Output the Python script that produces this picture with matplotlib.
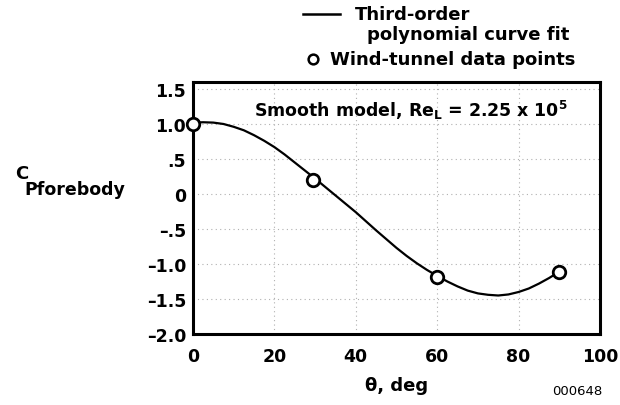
import matplotlib
matplotlib.use('Agg')
import matplotlib.pyplot as plt
from matplotlib.lines import Line2D

plt.rcParams['font.family'] = ['DejaVu Sans']
plt.rcParams['font.weight'] = 'bold'
plt.rcParams['mathtext.fontset'] = 'custom'
plt.rcParams['mathtext.rm'] = 'DejaVu Sans:bold'
plt.rcParams['mathtext.it'] = 'DejaVu Sans:bold'
plt.rcParams['mathtext.bf'] = 'DejaVu Sans:bold'

# polynomial fit curve
fit_theta = [0, 2.5, 5, 7.5, 10, 12.5, 15, 17.5, 20, 22.5, 25, 27.5, 30, 32.5, 35,
             37.5, 40, 42.5, 45, 47.5, 50, 52.5, 55, 57.5, 60, 62.5, 65, 67.5,
             70, 72.5, 75, 77.5, 80, 82.5, 85, 87.5, 90]
fit_cp = [1.02, 1.025, 1.02, 1.0, 0.96, 0.91, 0.84, 0.76, 0.67, 0.565, 0.45, 0.335,
          0.22, 0.10, -0.02, -0.14, -0.26, -0.39, -0.52, -0.645, -0.77, -0.885,
          -0.99, -1.085, -1.17, -1.25, -1.32, -1.38, -1.42, -1.44, -1.45, -1.435,
          -1.40, -1.35, -1.28, -1.20, -1.11]

# wind-tunnel data
pt_theta = [0, 29.5, 60, 90]
pt_cp = [1.0, 0.2, -1.18, -1.11]

yticks = [1.5, 1.0, 0.5, 0, -0.5, -1.0, -1.5, -2.0]
ytick_labels = ['1.5', '1.0', '.5', '0', '\u2013.5', '\u20131.0', '\u20131.5', '\u20132.0']
xticks = [0, 20, 40, 60, 80, 100]

W, H = 620, 406
fig = plt.figure(figsize=(6.2, 4.06), dpi=100)
ax = fig.add_axes([193 / W, 1 - 335 / H, 407 / W, 252 / H])

ax.plot(fit_theta, fit_cp, color='black', lw=1.6)
ax.plot(pt_theta, pt_cp, 'o', ms=9, mfc='white', mec='black', mew=2,
        clip_on=False, zorder=5)

ax.set_xlim(0, 100)
ax.set_ylim(-2.0, 1.6)
ax.set_xticks(xticks)
ax.set_yticks(yticks)
ax.set_yticklabels(ytick_labels)
ax.tick_params(labelsize=12.5, length=0)
ax.tick_params(axis='x', pad=9)
ax.tick_params(axis='y', pad=5)
for lab in ax.get_xticklabels() + ax.get_yticklabels():
    lab.set_fontweight('bold')
ax.grid(True, color='#b0b0b0', lw=0.8, ls=(0, (1, 3)))
for s in ax.spines.values():
    s.set_linewidth(2.2)

ax.set_xlabel('\u03b8, deg', fontsize=13, fontweight='bold', labelpad=8)

ax.text(92, 1.12, 'Smooth model, Re$_\\mathrm{L}$ = 2.25 x 10$^5$',
        fontsize=12.5, fontweight='bold', ha='right', va='baseline')

# y label
fig.text(15 / W, 1 - 179 / H, 'C', fontsize=13, fontweight='bold', va='baseline')
fig.text(24 / W, 1 - 195 / H, 'Pforebody', fontsize=12.5, fontweight='bold', va='baseline')

# legend, drawn by hand to keep the original layout
fig.add_artist(Line2D([303 / W, 340 / W], [1 - 15 / H, 1 - 15 / H], color='black', lw=1.8))
fig.add_artist(Line2D([313 / W], [1 - 60 / H], marker='o', ms=7, mfc='white',
                      mec='black', mew=1.8))
fig.text(355 / W, 1 - 20 / H, 'Third-order', fontsize=13, fontweight='bold', va='baseline')
fig.text(367 / W, 1 - 40 / H, 'polynomial curve fit', fontsize=13, fontweight='bold', va='baseline')
fig.text(330 / W, 1 - 65 / H, 'Wind-tunnel data points', fontsize=13, fontweight='bold', va='baseline')

fig.text(602 / W, 1 - 395 / H, '000648', fontsize=9.5, fontweight='normal', ha='right', va='baseline')

fig.savefig('out.png', dpi=100)
